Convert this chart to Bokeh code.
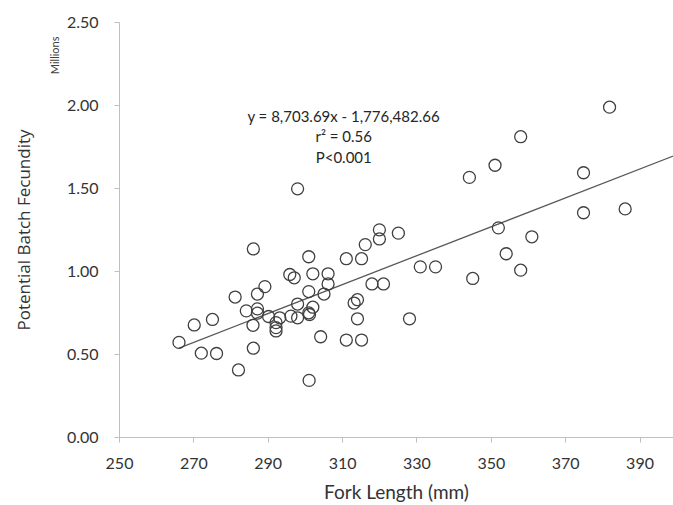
from bokeh.plotting import figure
from bokeh.models import Range1d, FixedTicker, NumeralTickFormatter, Label, Title
from bokeh.embed import file_html
from bokeh.resources import INLINE

# Fork length (mm) and potential batch fecundity (millions)
fork_length = [266.0, 270.1, 272.0, 275.0, 276.1, 281.1, 282.0, 284.1, 286.0, 285.9,
               286.0, 287.1, 287.1, 287.1, 289.1, 290.1, 292.1, 292.1, 292.1, 293.1,
               295.8, 297.0, 296.1, 297.9, 297.9, 297.9, 300.9, 300.9, 300.9, 301.1,
               301.0, 302.0, 302.0, 304.1, 305.0, 306.1, 306.1, 311.0, 311.0, 313.1,
               314.0, 314.0, 315.1, 315.1, 316.1, 317.9, 319.9, 319.9, 321.0, 325.0,
               328.0, 330.9, 335.0, 344.1, 345.0, 351.0, 351.9, 354.0, 357.9, 357.9,
               360.9, 374.8, 374.8, 381.8, 386.0]
fecundity = [0.573, 0.678, 0.508, 0.711, 0.506, 0.846, 0.407, 0.763, 1.136, 0.676,
             0.538, 0.864, 0.775, 0.749, 0.909, 0.729, 0.692, 0.662, 0.642, 0.721,
             0.982, 0.962, 0.731, 1.498, 0.804, 0.721, 1.089, 0.879, 0.751, 0.741,
             0.344, 0.986, 0.785, 0.607, 0.864, 0.986, 0.925, 1.077, 0.587, 0.810,
             0.830, 0.715, 1.077, 0.587, 1.162, 0.925, 1.251, 1.196, 0.925, 1.231,
             0.715, 1.028, 1.028, 1.567, 0.958, 1.640, 1.263, 1.107, 1.812, 1.008,
             1.209, 1.595, 1.354, 1.990, 1.377]

slope = 8703.69
intercept = -1776482.66
fit_x = [266.0, 400.0]
fit_y = [(slope * x + intercept) / 1e6 for x in fit_x]

x_ticks = [250, 270, 290, 310, 330, 350, 370, 390]
y_ticks = [0.0, 0.5, 1.0, 1.5, 2.0, 2.5]

annot_lines = ["y = 8,703.69x - 1,776,482.66", "r\u00b2 = 0.56", "P<0.001"]

p = figure(width=673, height=505, output_backend="svg", toolbar_location=None,
           x_range=Range1d(250, 399), y_range=Range1d(0, 2.5))
p.min_border_left = 118
p.min_border_right = 0
p.min_border_top = 22
p.min_border_bottom = 63
p.outline_line_color = None
p.xgrid.visible = False
p.ygrid.visible = False
p.background_fill_color = "white"
p.border_fill_color = "white"

p.line(fit_x, fit_y, line_color="#595959", line_width=1.3)
p.scatter(fork_length, fecundity, marker="circle", size=12, fill_color=None,
          line_color="#404040", line_width=1.3)

for ax in (p.xaxis[0], p.yaxis[0]):
    ax.axis_line_color = "#bfbfbf"
    ax.major_tick_line_color = "#bfbfbf"
    ax.minor_tick_line_color = None
    ax.major_tick_in = 0
    ax.major_tick_out = 5
    ax.major_label_text_font = "Lato"
    ax.major_label_text_font_size = "16px"
    ax.major_label_text_color = "#333333"
    ax.axis_label_text_font_style = "normal"
    ax.axis_label_text_color = "#333333"

p.xaxis.ticker = FixedTicker(ticks=x_ticks)
p.yaxis.ticker = FixedTicker(ticks=y_ticks)
p.yaxis.formatter = NumeralTickFormatter(format="0.00")
p.xaxis.major_label_standoff = 15
p.yaxis.major_label_standoff = 16

p.xaxis.axis_label = "Fork Length (mm)"
p.xaxis.axis_label_text_font = "Lato"
p.xaxis.axis_label_text_font_size = "19px"
p.xaxis.axis_label_standoff = 8

millions = Title(text="Millions", align="right", offset=14, standoff=5,
                 text_font="Lato", text_font_size="11px", text_font_style="normal",
                 text_color="#404040")
p.add_layout(millions, "left")

ytitle = Title(text="Potential Batch Fecundity", align="center", standoff=18,
               text_font="Open Sans", text_font_size="17px", text_font_style="normal",
               text_color="#333333")
p.add_layout(ytitle, "left")

line_y = [1.939, 1.815, 1.69]
for t, yy in zip(annot_lines, line_y):
    p.add_layout(Label(x=310.3, y=yy, text=t, text_font="Lato", text_font_size="15px",
                       text_color="#262626", text_align="center", text_baseline="middle"))

open("out.html", "w").write(file_html(p, INLINE))
